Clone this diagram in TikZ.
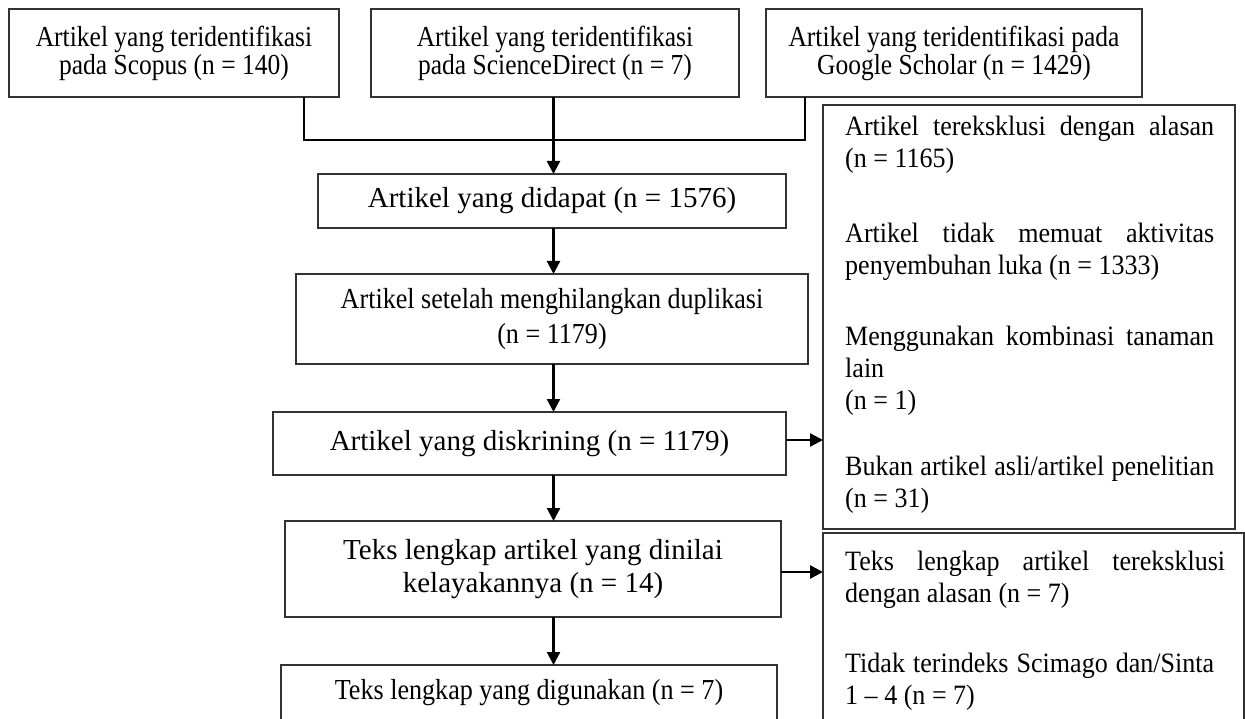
\documentclass[tikz,border=0pt]{standalone}
\usepackage{fontspec}
\setmainfont{Liberation Serif}
\newfontfamily\fcondA[FakeStretch=0.88]{Liberation Serif}
\newfontfamily\fcondB[FakeStretch=0.90]{Liberation Serif}
\newfontfamily\fcondC[FakeStretch=0.93]{Liberation Serif}
\usetikzlibrary{arrows.meta}
\definecolor{boxgray}{gray}{0.2}
\begin{document}
\begin{tikzpicture}[x=1pt,y=-1pt,
  box/.style={draw=boxgray,line width=1.3pt,inner sep=0pt,outer sep=0pt,align=center},
  topfont/.style={font=\fcondA\fontsize{29}{28}\selectfont},
  midfont/.style={font=\fontsize{29}{33}\selectfont},
  condfont/.style={font=\fcondB\fontsize{29}{35}\selectfont},
  exfont/.style={font=\fcondC\fontsize{28}{32}\selectfont},
  conn/.style={line width=1.8pt,black},
  arr/.style={line width=2.3pt,black,-{Triangle[width=13pt,length=13pt]}},
  expar/.style={exfont,anchor=base west,inner sep=0pt,align=justify}]
\useasboundingbox (0,0) rectangle (1245,719);
\clip (0,0) rectangle (1245,719);
% top sources
\node[box,topfont,minimum width=330pt,minimum height=88pt] (b1) at (174,53)
  {Artikel yang teridentifikasi\\pada Scopus (n = 140)};
\node[box,topfont,minimum width=368pt,minimum height=88pt] (b2) at (555,53)
  {Artikel yang teridentifikasi\\pada ScienceDirect (n = 7)};
\node[box,topfont,minimum width=376pt,minimum height=88pt] (b3) at (954,53)
  {Artikel yang teridentifikasi pada\\Google Scholar (n = 1429)};
% main column
\node[box,midfont,minimum width=468pt,minimum height=54pt] (didapat) at (552,201)
  {Artikel yang didapat (n = 1576)};
\node[box,condfont,minimum width=512pt,minimum height=90pt] (setelah) at (552,319)
  {Artikel setelah menghilangkan duplikasi\\(n = 1179)};
\node[box,midfont,minimum width=513pt,minimum height=63pt] (diskrining) at (529.5,443.5)
  {Artikel yang diskrining (n = 1179)};
\node[box,midfont,minimum width=496pt,minimum height=96pt] (teks) at (533,569)
  {Teks lengkap artikel yang dinilai\\kelayakannya (n = 14)};
\node[box,condfont,minimum width=496pt,minimum height=56pt] (digunakan) at (529,693)
  {Teks lengkap yang digunakan (n = 7)};
% exclusion boxes
\node[box,minimum width=412pt,minimum height=424pt] (ex1) at (1029,317) {};
\node[box,minimum width=421pt,minimum height=192pt] (ex2) at (1033.5,629) {};
\node[expar,text width=369pt] (p1) at (845,136)
  {Artikel tereksklusi dengan alasan\linebreak (n = 1165)};
\node[expar,text width=369pt] (p2) at (845,243)
  {Artikel tidak memuat aktivitas\linebreak penyembuhan luka (n = 1333)};
\node[expar,text width=369pt] (p3) at (845,345)
  {Menggunakan kombinasi tanaman\linebreak lain\newline (n = 1)};
\node[expar,text width=369pt] (p4) at (845,475)
  {Bukan artikel asli/artikel penelitian\linebreak (n = 31)};
\node[expar,text width=380pt] (q1) at (845,570)
  {Teks lengkap artikel tereksklusi\linebreak dengan alasan (n = 7)};
\node[expar,text width=369pt] (q2) at (845,672)
  {Tidak terindeks Scimago dan/Sinta\linebreak 1 – 4 (n = 7)};
% connectors
\coordinate (sp) at (553.5,0);
\coordinate (c1) at (304,140);
\coordinate (c3) at (805,140);
\coordinate (h1) at (0,440);
\coordinate (h2) at (0,572);
\draw[conn] (b1.south -| c1) |- (c3) -- (b3.south -| c3);
\draw[arr] (b2.south -| sp) -- (didapat.north -| sp);
\draw[arr] (didapat.south -| sp) -- (setelah.north -| sp);
\draw[arr] (setelah.south -| sp) -- (diskrining.north -| sp);
\draw[arr] (diskrining.south -| sp) -- (teks.north -| sp);
\draw[arr] (teks.south -| sp) -- (digunakan.north -| sp);
\draw[arr] (diskrining.east |- h1) -- (ex1.west |- h1);
\draw[arr] (teks.east |- h2) -- (ex2.west |- h2);
\end{tikzpicture}
\end{document}
